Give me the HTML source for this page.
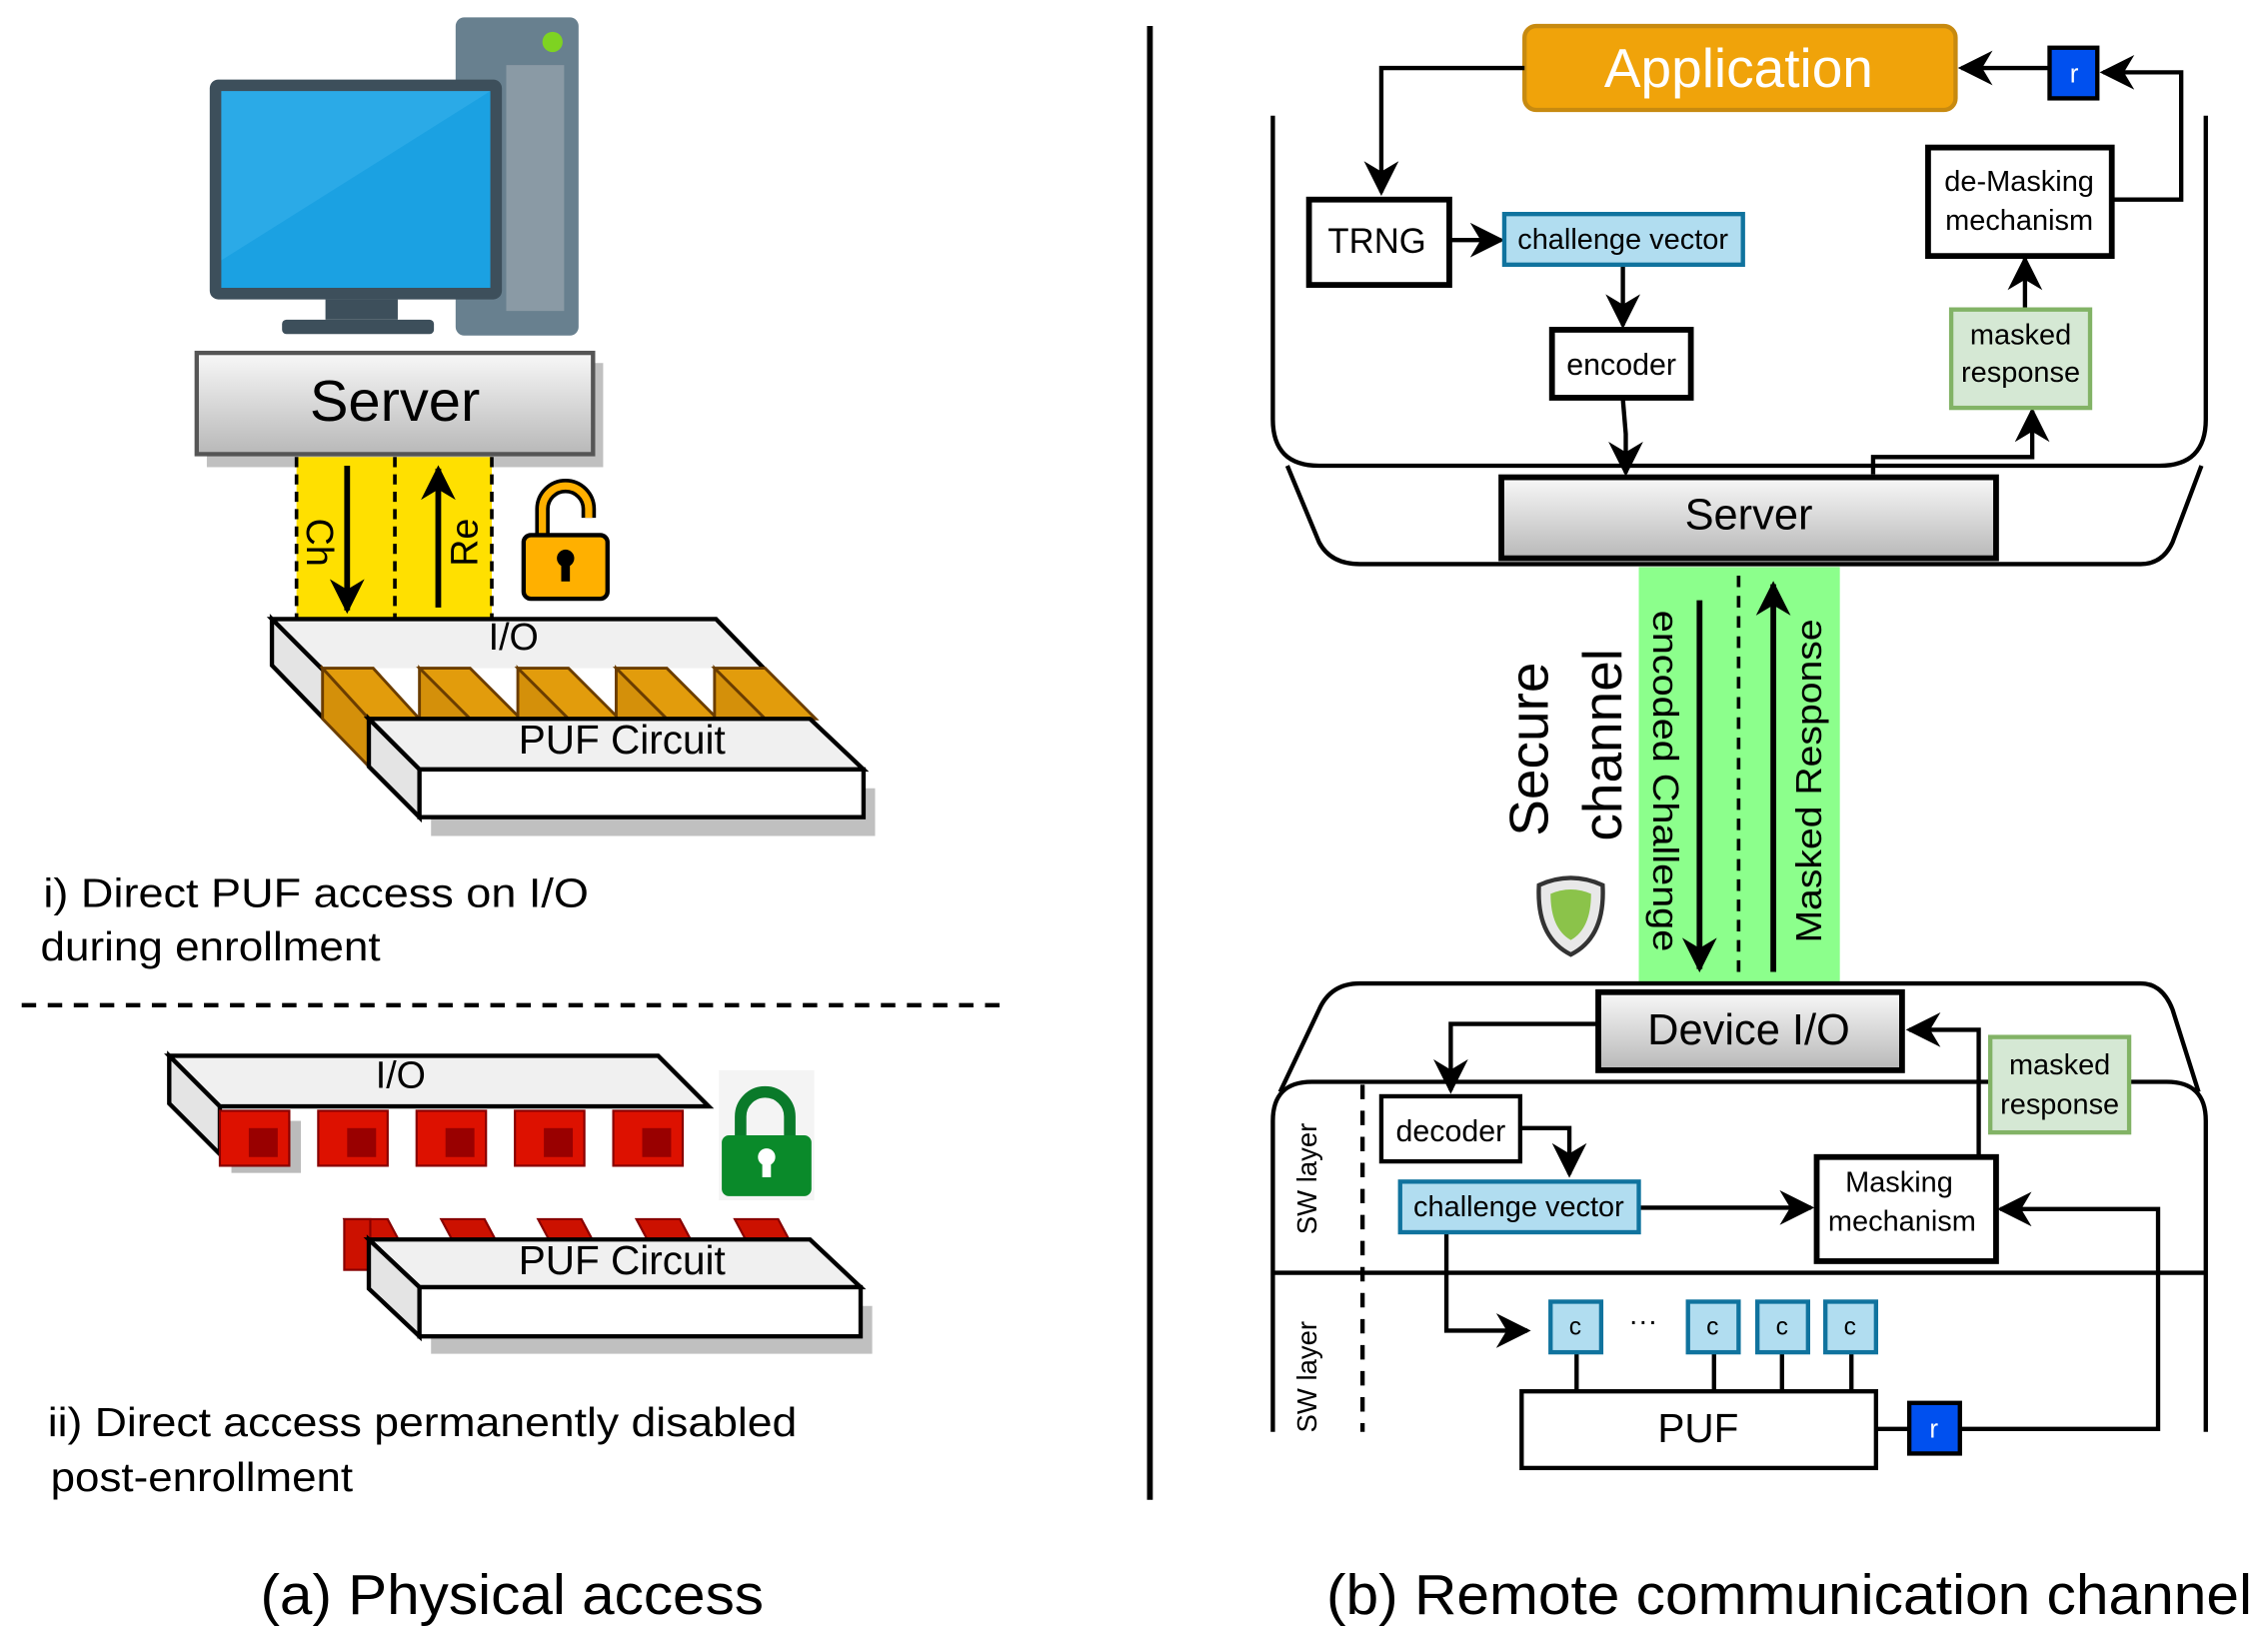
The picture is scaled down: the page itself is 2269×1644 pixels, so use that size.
<!DOCTYPE html>
<html><head><meta charset="utf-8"><style>html,body{margin:0;padding:0;background:#fff}svg{display:block}text{font-family:"Liberation Sans",Arial,sans-serif}</style></head>
<body>
<svg width="2269" height="1644" viewBox="0 0 1568 1136" preserveAspectRatio="none" xmlns="http://www.w3.org/2000/svg">
<defs>
<linearGradient id="g" x1="0" y1="0" x2="0" y2="1"><stop offset="0" stop-color="#f8f8f8"/><stop offset="1" stop-color="#b8b8b8"/></linearGradient>
<marker id="A" viewBox="0 0 10 10" refX="9" refY="5" markerWidth="24" markerHeight="24" orient="auto" markerUnits="userSpaceOnUse"><path d="M0,0 L10,5 L0,10 L3,5z" fill="#000"/></marker>
</defs>
<!-- LEFT -->
<rect x="315" y="12" width="85" height="220" rx="6" fill="#68808f"/>
<rect x="350" y="45" width="40" height="170" fill="#8a9aa5"/>
<circle cx="382" cy="29" r="7" fill="#7ed321"/>
<rect x="145" y="55" width="202" height="152" rx="6" fill="#3d4f5b"/>
<rect x="153" y="63" width="186" height="136" fill="#1ba1e2"/>
<polygon points="153,63 339,63 153,180" fill="#3cb4ec" opacity="0.5"/>
<rect x="225" y="207" width="50" height="14" fill="#3d4f5b"/>
<rect x="195" y="221" width="105" height="10" rx="3" fill="#3d4f5b"/>
<rect x="143" y="251" width="274" height="72" fill="#c0c0c0"/>
<rect x="136" y="244" width="274" height="70" fill="url(#g)" stroke="#555" stroke-width="3"/>
<text x="273" y="291" font-size="40" text-anchor="middle">Server</text>
<rect x="205" y="316" width="135" height="112" fill="#ffe000"/>
<g stroke="#000" stroke-width="2.5" stroke-dasharray="7,5"><line x1="205" y1="316" x2="205" y2="428"/><line x1="273" y1="316" x2="273" y2="428"/><line x1="340" y1="316" x2="340" y2="428"/></g>
<line x1="240" y1="322" x2="240" y2="422" stroke="#000" stroke-width="4" marker-end="url(#A)"/>
<line x1="303" y1="420" x2="303" y2="324" stroke="#000" stroke-width="4" marker-end="url(#A)"/>
<text transform="translate(212,375) rotate(90)" font-size="26" text-anchor="middle">Ch</text>
<text transform="translate(330,375) rotate(-90)" font-size="26" text-anchor="middle">Re</text>
<path d="M375,370 V352 a16,16 0 0 1 32,0 V358" fill="none" stroke="#000" stroke-width="10"/>
<path d="M375,370 V352 a16,16 0 0 1 32,0 V358" fill="none" stroke="#ffb000" stroke-width="5"/>
<rect x="362" y="370" width="58" height="44" rx="5" fill="#ffb000" stroke="#000" stroke-width="3"/>
<circle cx="391" cy="386" r="6" fill="#000"/><rect x="388" y="388" width="6" height="14" fill="#000"/>
<!-- slab 1 -->
<polygon points="188,428 495,428 560,495 255,495" fill="#f0f0f0" stroke="#000" stroke-width="3"/>
<polygon points="188,428 255,495 290,535 290,565 188,460" fill="#e4e4e4" stroke="#000" stroke-width="3"/>
<rect x="223" y="462" width="335" height="35" fill="#fff"/>
<g stroke="#6b3d00" stroke-width="2">
<polygon points="223,462 255,497 255,530 223,497" fill="#d4900a"/>
<polygon points="223,462 258,462 290,497 255,497" fill="#e29c0c"/>
<polygon points="290,462 325,462 360,497 325,497" fill="#e29c0c"/>
<polygon points="290,462 325,497 290,497" fill="#d4900a"/>
<polygon points="358,462 393,462 428,497 393,497" fill="#e29c0c"/>
<polygon points="358,462 393,497 358,497" fill="#d4900a"/>
<polygon points="426,462 461,462 496,497 461,497" fill="#e29c0c"/>
<polygon points="426,462 461,497 426,497" fill="#d4900a"/>
<polygon points="494,462 529,462 564,497 529,497" fill="#e29c0c"/>
<polygon points="494,462 529,497 494,497" fill="#d4900a"/>
</g>
<polygon points="298,545 605,545 605,578 298,578" fill="#c0c0c0"/>
<polygon points="255,497 560,497 597,532 290,532" fill="#f0f0f0" stroke="#000" stroke-width="3"/>
<polygon points="255,497 290,532 290,565 255,530" fill="#e4e4e4" stroke="#000" stroke-width="3"/>
<rect x="290" y="532" width="307" height="33" fill="#fff" stroke="#000" stroke-width="3"/>
<text x="355" y="449" font-size="26" text-anchor="middle">I/O</text>
<text x="430" y="521" font-size="28" text-anchor="middle">PUF Circuit</text>
<text x="30" y="627" font-size="28" textLength="377" lengthAdjust="spacingAndGlyphs">i) Direct PUF access on I/O</text>
<text x="28" y="664" font-size="28" textLength="235" lengthAdjust="spacingAndGlyphs">during enrollment</text>
<line x1="15" y1="695" x2="695" y2="695" stroke="#000" stroke-width="3" stroke-dasharray="10,8"/>
<!-- slab 2 -->
<g fill="#cc1100" stroke="#880000" stroke-width="1.5">
<polygon points="238,843 268,843 276,858 246,858"/><polygon points="305,843 335,843 343,858 313,858"/><polygon points="372,843 402,843 410,858 380,858"/><polygon points="440,843 470,843 478,858 448,858"/><polygon points="508,843 538,843 546,858 516,858"/>
<rect x="238" y="843" width="18" height="35"/>
</g>
<polygon points="117,730 455,730 490,765 152,765" fill="#f0f0f0" stroke="#000" stroke-width="3"/>
<polygon points="117,730 152,765 152,798 117,763" fill="#e4e4e4" stroke="#000" stroke-width="3"/>
<g>
<rect x="160" y="775" width="48" height="36" fill="#bbb"/>
<g fill="#dd1100" stroke="#800" stroke-width="1.5">
<rect x="152" y="768" width="48" height="38"/><rect x="220" y="768" width="48" height="38"/><rect x="288" y="768" width="48" height="38"/><rect x="356" y="768" width="48" height="38"/><rect x="424" y="768" width="48" height="38"/>
</g>
<g fill="#990000"><rect x="172" y="780" width="20" height="20"/><rect x="240" y="780" width="20" height="20"/><rect x="308" y="780" width="20" height="20"/><rect x="376" y="780" width="20" height="20"/><rect x="444" y="780" width="20" height="20"/></g>
</g>
<text x="277" y="752" font-size="26" text-anchor="middle">I/O</text>
<rect x="497" y="740" width="66" height="90" fill="#f4f4f4"/>
<path d="M512,790 V772 a17,17 0 0 1 34,0 V790" fill="none" stroke="#0a7a2a" stroke-width="8"/>
<rect x="499" y="785" width="62" height="42" rx="5" fill="#0a8a2a"/>
<circle cx="530" cy="800" r="6" fill="#fff"/><rect x="527" y="802" width="6" height="12" fill="#fff"/>
<polygon points="298,903 603,903 603,936 298,936" fill="#c0c0c0"/>
<polygon points="255,857 560,857 595,890 290,890" fill="#f0f0f0" stroke="#000" stroke-width="3"/>
<polygon points="255,857 290,890 290,924 255,891" fill="#e4e4e4" stroke="#000" stroke-width="3"/>
<rect x="290" y="890" width="305" height="34" fill="#fff" stroke="#000" stroke-width="3"/>
<text x="430" y="881" font-size="28" text-anchor="middle">PUF Circuit</text>
<text x="33" y="993" font-size="28" textLength="518" lengthAdjust="spacingAndGlyphs">ii) Direct access permanently disabled</text>
<text x="35" y="1031" font-size="28" textLength="209" lengthAdjust="spacingAndGlyphs">post-enrollment</text>
<text x="180" y="1116" font-size="39" textLength="348" lengthAdjust="spacingAndGlyphs">(a) Physical access</text>
<line x1="795" y1="18" x2="795" y2="1037" stroke="#000" stroke-width="4"/>
<!-- RIGHT -->
<path d="M880,80 V290 Q880,322 912,322 H1493 Q1525,322 1525,290 V80" fill="none" stroke="#000" stroke-width="3"/>
<path d="M890,322 L912,375 Q920,390 940,390 H1480 Q1495,390 1502,375 L1522,322" fill="none" stroke="#000" stroke-width="3"/>
<rect x="1054" y="18" width="298" height="58" rx="8" fill="#f0a30a" stroke="#c78a10" stroke-width="3"/>
<text x="1202" y="60" font-size="38" fill="#fff" text-anchor="middle">Application</text>
<rect x="1417" y="33" width="33" height="35" fill="#0050ef" stroke="#000" stroke-width="3"/>
<text x="1434" y="57" font-size="18" fill="#fff" text-anchor="middle">r</text>
<g stroke="#000" stroke-width="3" fill="none">
<line x1="1416" y1="47" x2="1356" y2="47" marker-end="url(#A)"/>
<polyline points="1460,138 1508,138 1508,50 1454,50" marker-end="url(#A)"/>
<polyline points="1054,47 955,47 955,133" marker-end="url(#A)"/>
<line x1="1003" y1="166" x2="1038" y2="166" marker-end="url(#A)"/>
<line x1="1122" y1="184" x2="1122" y2="225" marker-end="url(#A)"/>
<polyline points="1122,276 1124,300 1124,327" marker-end="url(#A)"/>
<line x1="1400" y1="213" x2="1400" y2="179" marker-end="url(#A)"/>
<polyline points="1295,328 1295,316 1405,316 1405,284" marker-end="url(#A)"/>
</g>
<rect x="905" y="138" width="97" height="59" fill="#fff" stroke="#000" stroke-width="4"/>
<text x="952" y="175" font-size="24" text-anchor="middle">TRNG</text>
<rect x="1040" y="148" width="165" height="35" fill="#b1ddf0" stroke="#10739e" stroke-width="3"/>
<text x="1122" y="172" font-size="20" text-anchor="middle">challenge vector</text>
<rect x="1073" y="228" width="96" height="47" fill="#fff" stroke="#000" stroke-width="4"/>
<text x="1121" y="259" font-size="21" text-anchor="middle">encoder</text>
<rect x="1333" y="102" width="127" height="75" fill="#fff" stroke="#000" stroke-width="4"/>
<text x="1396" y="132" font-size="20" text-anchor="middle">de-Masking</text>
<text x="1396" y="159" font-size="20" text-anchor="middle">mechanism</text>
<rect x="1349" y="214" width="96" height="68" fill="#d5e8d4" stroke="#82b366" stroke-width="3"/>
<text x="1397" y="238" font-size="20" text-anchor="middle">masked</text>
<text x="1397" y="264" font-size="20" text-anchor="middle">response</text>
<rect x="1038" y="330" width="342" height="56" fill="url(#g)" stroke="#000" stroke-width="4"/>
<text x="1209" y="366" font-size="30" text-anchor="middle">Server</text>
<rect x="1133" y="392" width="139" height="288" fill="#8cff8c"/>
<line x1="1202" y1="398" x2="1202" y2="676" stroke="#000" stroke-width="2.5" stroke-dasharray="8,6"/>
<line x1="1175" y1="415" x2="1175" y2="670" stroke="#000" stroke-width="4" marker-end="url(#A)"/>
<line x1="1226" y1="672" x2="1226" y2="404" stroke="#000" stroke-width="4" marker-end="url(#A)"/>
<text transform="translate(1143,540) rotate(90)" font-size="25" text-anchor="middle" textLength="236" lengthAdjust="spacingAndGlyphs">encoded Challenge</text>
<text transform="translate(1259,540) rotate(-90)" font-size="25" text-anchor="middle" textLength="224" lengthAdjust="spacingAndGlyphs">Masked Response</text>
<text transform="translate(1070,518) rotate(-90)" font-size="38" text-anchor="middle">Secure</text>
<text transform="translate(1121,515) rotate(-90)" font-size="38" text-anchor="middle">channel</text>
<path d="M1064,612 Q1086,602 1108,612 Q1110,648 1086,660 Q1062,648 1064,612z" fill="#e8e8e8" stroke="#333" stroke-width="3"/>
<path d="M1072,618 Q1086,612 1100,618 Q1100,642 1086,650 Q1072,642 1072,618z" fill="#8bc34a"/>
<!-- device -->
<path d="M885,755 L912,698 Q920,680 940,680 H1480 Q1495,680 1502,698 L1520,755" fill="none" stroke="#000" stroke-width="3"/>
<path d="M880,990 V775 Q880,748 907,748 H1498 Q1525,748 1525,775 V990" fill="#fff" stroke="#000" stroke-width="3"/>
<line x1="880" y1="880" x2="1525" y2="880" stroke="#000" stroke-width="3"/>
<line x1="942" y1="750" x2="942" y2="990" stroke="#000" stroke-width="3" stroke-dasharray="10,8"/>
<text transform="translate(910,815) rotate(-90)" font-size="19" text-anchor="middle">SW layer</text>
<text transform="translate(910,952) rotate(-90)" font-size="19" text-anchor="middle">SW layer</text>
<rect x="1105" y="686" width="210" height="54" fill="url(#g)" stroke="#000" stroke-width="4"/>
<text x="1209" y="722" font-size="30" text-anchor="middle">Device I/O</text>
<rect x="1376" y="717" width="96" height="66" fill="#d5e8d4" stroke="#82b366" stroke-width="3"/>
<text x="1424" y="743" font-size="20" text-anchor="middle">masked</text>
<text x="1424" y="770" font-size="20" text-anchor="middle">response</text>
<g stroke="#000" stroke-width="3" fill="none">
<polyline points="1105,708 1003,708 1003,754" marker-end="url(#A)"/>
<polyline points="1051,780 1085,780 1085,812" marker-end="url(#A)"/>
<line x1="1133" y1="835" x2="1252" y2="835" marker-end="url(#A)"/>
<polyline points="1000,852 1000,920 1056,920" marker-end="url(#A)"/>
<polyline points="1368,800 1368,712 1320,712" marker-end="url(#A)"/>
<polyline points="1297,988 1320,988"/>
<polyline points="1355,988 1492,988 1492,836 1383,836" marker-end="url(#A)"/>
<line x1="1090" y1="935" x2="1090" y2="962"/><line x1="1185" y1="935" x2="1185" y2="962"/><line x1="1232" y1="935" x2="1232" y2="962"/><line x1="1280" y1="935" x2="1280" y2="962"/>
</g>
<rect x="955" y="758" width="96" height="45" fill="#fff" stroke="#000" stroke-width="3"/>
<text x="1003" y="789" font-size="21" text-anchor="middle">decoder</text>
<rect x="968" y="817" width="165" height="35" fill="#b1ddf0" stroke="#10739e" stroke-width="3"/>
<text x="1050" y="841" font-size="20" text-anchor="middle">challenge vector</text>
<rect x="1256" y="800" width="124" height="72" fill="#fff" stroke="#000" stroke-width="4"/>
<text x="1313" y="824" font-size="20" text-anchor="middle">Masking</text>
<text x="1315" y="851" font-size="20" text-anchor="middle">mechanism</text>
<g fill="#b1ddf0" stroke="#10739e" stroke-width="3">
<rect x="1072" y="900" width="35" height="35"/><rect x="1167" y="900" width="35" height="35"/><rect x="1215" y="900" width="35" height="35"/><rect x="1262" y="900" width="35" height="35"/>
</g>
<g font-size="17" text-anchor="middle"><text x="1089" y="923">c</text><text x="1184" y="923">c</text><text x="1232" y="923">c</text><text x="1279" y="923">c</text></g>
<text x="1136" y="920" font-size="20" text-anchor="middle">···</text>
<rect x="1052" y="962" width="245" height="53" fill="#fff" stroke="#000" stroke-width="3"/>
<text x="1174" y="997" font-size="28" text-anchor="middle">PUF</text>
<rect x="1320" y="970" width="35" height="35" fill="#0050ef" stroke="#000" stroke-width="3"/>
<text x="1337" y="994" font-size="18" fill="#fff" text-anchor="middle">r</text>
<text x="917" y="1116" font-size="39" textLength="640" lengthAdjust="spacingAndGlyphs">(b) Remote communication channel</text>
</svg>
</body></html>
